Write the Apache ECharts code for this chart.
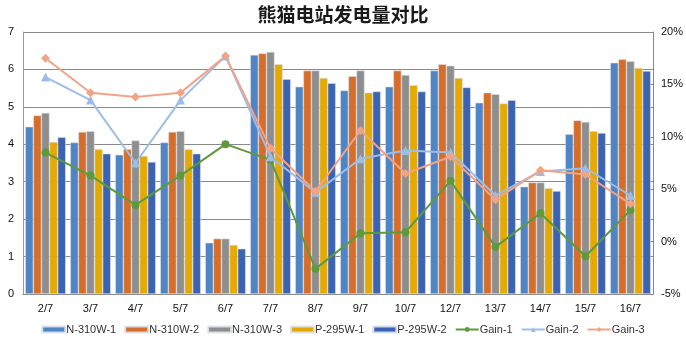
<!DOCTYPE html>
<html>
<head>
<meta charset="utf-8">
<script src="https://cdn.jsdelivr.net/npm/echarts@6/dist/echarts.min.js"></script>
<style>
  html, body { margin: 0; padding: 0; background: #fff; }
  #chart { width: 686px; height: 342px; }
</style>
</head>
<body>
<div id="chart"></div>
<script>
// Dates of the comparison
const categories = ['2/7', '3/7', '4/7', '5/7', '6/7', '7/7', '8/7', '9/7', '10/7', '12/7', '13/7', '14/7', '15/7', '16/7'];

// Daily generation per string (kWh)
const n310w1 = [4.47, 4.05, 3.72, 4.05, 1.37, 6.39, 5.54, 5.44, 5.54, 5.97, 5.11, 2.87, 4.27, 6.18];
const n310w2 = [4.77, 4.33, 3.87, 4.33, 1.48, 6.43, 5.97, 5.82, 5.97, 6.14, 5.38, 2.98, 4.64, 6.27];
const n310w3 = [4.84, 4.35, 4.10, 4.35, 1.48, 6.47, 5.97, 5.97, 5.85, 6.10, 5.34, 2.98, 4.60, 6.22];
const p295w1 = [4.06, 3.87, 3.69, 3.87, 1.31, 6.14, 5.77, 5.38, 5.58, 5.77, 5.09, 2.83, 4.35, 6.04];
const p295w2 = [4.19, 3.75, 3.53, 3.75, 1.21, 5.74, 5.63, 5.41, 5.41, 5.52, 5.18, 2.75, 4.30, 5.96];

// Gains in percent
const gain1 = [8.5, 6.3, 3.5, 6.3, 9.3, 7.8, -2.6, 0.8, 0.9, 5.8, -0.5, 2.7, -1.4, 3.0];
const gain2 = [15.7, 13.5, 7.5, 13.5, 17.7, 8.1, 4.7, 7.9, 8.7, 8.5, 4.4, 6.7, 7.0, 4.4];
const gain3 = [17.5, 14.2, 13.8, 14.2, 17.7, 8.9, 4.8, 10.6, 6.5, 8.1, 4.0, 6.8, 6.4, 3.6];

const leftTicks = { min: 0, max: 7, interval: 1 };
const rightTicks = { min: -5, max: 20, interval: 5 };

const font = '"Liberation Sans", "DejaVu Sans", sans-serif';

function bar(name, data, color) {
  return {
    name, type: 'bar', data, yAxisIndex: 0,
    barGap: '0%', barCategoryGap: '10%',
    itemStyle: { color, borderColor: 'rgba(220,225,235,0.9)', borderWidth: 0.6 }
  };
}
function line(name, data, color, symbol, size) {
  return {
    name, type: 'line', data, yAxisIndex: 1,
    symbol, symbolSize: size,
    lineStyle: { color, width: 2 },
    itemStyle: { color },
    z: 5
  };
}

const chart = echarts.init(document.getElementById('chart'), null, { renderer: 'canvas' });
chart.setOption({
  animation: false,
  backgroundColor: '#fff',
  title: {
    text: '熊猫电站发电量对比', left: 'center', top: 0,
    textStyle: { fontFamily: '"Noto Sans CJK SC", sans-serif', fontSize: 19, fontWeight: 'bold', color: '#1a1a1a' }
  },
  legend: {
    bottom: 2, left: 'center', itemGap: 8, itemWidth: 23, itemHeight: 6,
    textStyle: { fontFamily: font, fontSize: 11, color: '#333', padding: [0, 0, 0, -4] },
    data: [
      { name: 'N-310W-1', icon: 'rect' }, { name: 'N-310W-2', icon: 'rect' },
      { name: 'N-310W-3', icon: 'rect' }, { name: 'P-295W-1', icon: 'rect' },
      { name: 'P-295W-2', icon: 'rect' },
      'Gain-1', 'Gain-2', 'Gain-3'
    ]
  },
  grid: { left: 23, right: 28, top: 32, bottom: 48 },
  xAxis: {
    type: 'category', data: categories,
    axisLine: { lineStyle: { color: '#888' } },
    axisTick: { show: false },
    axisLabel: { fontFamily: font, fontSize: 11, color: '#111', margin: 9 }
  },
  yAxis: [
    {
      type: 'value', min: leftTicks.min, max: leftTicks.max, interval: leftTicks.interval,
      axisLine: { show: true, lineStyle: { color: '#999' } },
      axisTick: { show: false },
      axisLabel: { fontFamily: font, fontSize: 11, color: '#111', margin: 9 },
      splitLine: { lineStyle: { color: '#8a8a8a', width: 1 } }
    },
    {
      type: 'value', min: rightTicks.min, max: rightTicks.max, interval: rightTicks.interval,
      position: 'right',
      axisLine: { show: true, lineStyle: { color: '#888' } },
      axisTick: { show: true, inside: true, length: 4, lineStyle: { color: '#888' } },
      axisLabel: { fontFamily: font, fontSize: 11, color: '#111', formatter: '{value}%', margin: 8 },
      splitLine: { show: false }
    }
  ],
  series: [
    bar('N-310W-1', n310w1, '#4f85c4'),
    bar('N-310W-2', n310w2, '#d66d29'),
    bar('N-310W-3', n310w3, '#8e8e8e'),
    bar('P-295W-1', p295w1, '#e5a900'),
    bar('P-295W-2', p295w2, '#3b63b0'),
    line('Gain-1', gain1, '#5e9a3b', 'circle', 8),
    line('Gain-2', gain2, '#9dbde8', 'triangle', 9),
    line('Gain-3', gain3, '#f2a385', 'diamond', 9)
  ]
});
</script>
</body>
</html>
